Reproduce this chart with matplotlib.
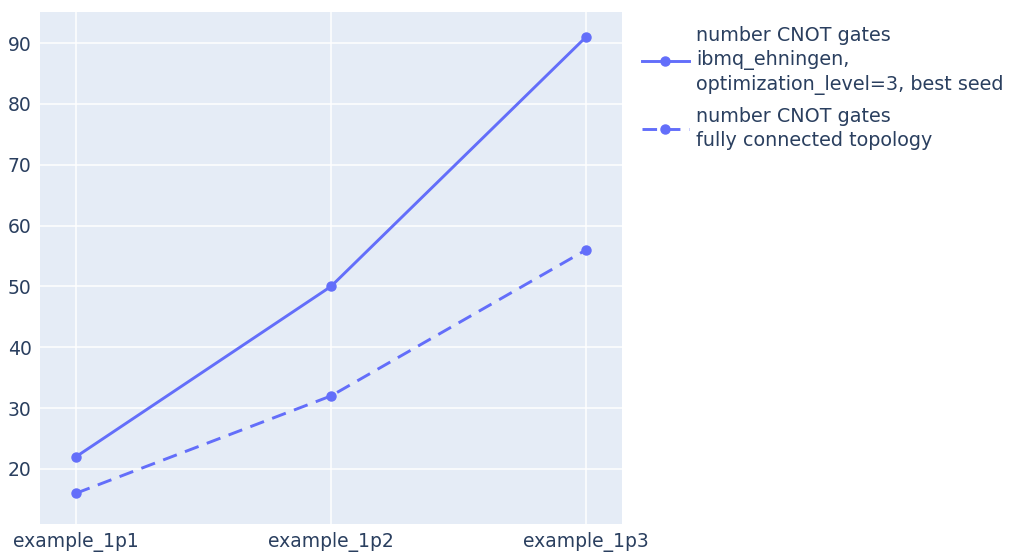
import matplotlib.pyplot as plt
import numpy as np

categories = ['example_1p1', 'example_1p2', 'example_1p3']
cnot_ehningen = [22, 50, 91]
cnot_full = [16, 32, 56]
label_ehningen = 'number CNOT gates\nibmq_ehningen,\noptimization_level=3, best seed'
label_full = 'number CNOT gates\nfully connected topology'

plt.rcParams['font.family'] = ['DejaVu Sans']
text_color = '#2a3f5f'
line_color = '#636efa'

fig = plt.figure(figsize=(10.11, 5.52), dpi=100)
ax = fig.add_axes([40 / 1011, 1 - 524 / 552, (622 - 40) / 1011, (524 - 12) / 552])
ax.set_facecolor('#e5ecf6')

x = np.arange(len(categories))
ax.plot(x, cnot_ehningen, color=line_color, lw=2.1, marker='o', ms=6.5,
        label=label_ehningen)
ax.plot(x, cnot_full, color=line_color, lw=2.1, marker='o', ms=6.5,
        dashes=(5, 3), label=label_full)

ax.set_xlim(-0.141, 2.141)
ax.set_ylim(10.95, 95.1)
ax.set_xticks(x)
ax.set_xticklabels(categories)
ax.set_yticks(np.arange(20, 91, 10))

ax.grid(color='white', lw=1.1)
ax.set_axisbelow(True)
for s in ax.spines.values():
    s.set_visible(False)
ax.tick_params(length=0, labelsize=13.5, colors=text_color, pad=6)

leg = fig.legend(loc='upper left', bbox_to_anchor=(642 / 1011, 1 - 26 / 552),
                 frameon=False, fontsize=13.8, labelcolor=text_color,
                 borderpad=0, borderaxespad=0,
                 handlelength=2.45, handletextpad=0.36, labelspacing=0.62)
for t in leg.get_texts():
    t.set_linespacing(1.33)

fig.savefig('out.png', dpi=100)
